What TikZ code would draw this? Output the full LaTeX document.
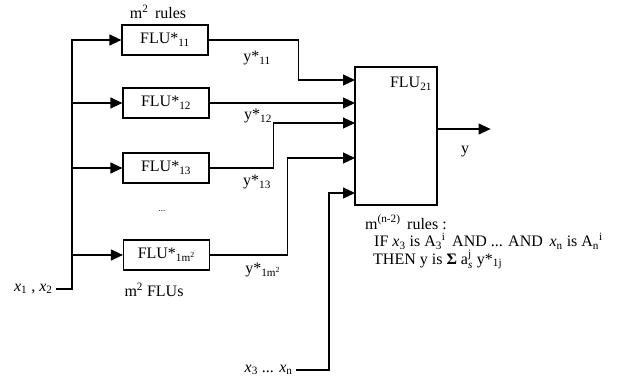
\documentclass[tikz,border=0pt]{standalone}
\usepackage{amsmath}
\usepackage{fontspec}
\setmainfont{Liberation Serif}
\usetikzlibrary{arrows.meta}
\tikzset{
  flu/.style={draw, line width=1.2pt, minimum width=86pt, minimum height=30pt, inner sep=2pt},
  flow/.style={line width=1.2pt, -{Triangle[length=12pt,width=11pt]}}
}

\begin{document}
\begin{tikzpicture}[x=1pt, y=-1pt, font=\fontsize{16}{16}\selectfont] %one unit is one pixel of the original
\useasboundingbox (0,0) rectangle (627,379); %Fixes the page size

% first layer of units
\node[flu] (b11) at (165,40) {FLU*\textsubscript{11}};
\node[flu] (b12) at (166,103) {FLU*\textsubscript{12}};
\node[flu] (b13) at (166,168) {FLU*\textsubscript{13}};
\node[flu] (b1m) at (166.5,255) {FLU*\textsubscript{1m\textsuperscript{2}}};
\node (rules1) at (158,12) {m\textsuperscript{2}\, rules};
\node (dots) at (162,211) {\fontsize{9}{10}\selectfont ...};
\node (flus) at (154,290) {m\textsuperscript{2} FLUs};

% second layer unit
\node[draw, line width=1.2pt, minimum width=82pt, minimum height=138pt] (b21) at (396,136) {};
\node (lab21) at (411,84) {FLU\textsubscript{21}};
\coordinate (p1) at (355,80);
\coordinate (p2) at (355,103);
\coordinate (p3) at (355,123);
\coordinate (p4) at (355,158);
\coordinate (p5) at (355,193);

% inputs
\node[anchor=east] (in12) at (56,289) {\textit{x}\textsubscript{1} , \textit{x}\textsubscript{2}};
\node[anchor=east] (in3n) at (296,370) {\textit{x}\textsubscript{3} ... \textit{x}\textsubscript{n}};
\draw[flow] (in12.east) -- ++(16,0) coordinate (bus) |- (b11.west); %input bus
\draw[flow] (bus |- b12) -- (b12.west);
\draw[flow] (bus |- b13) -- (b13.west);
\draw[flow] (bus |- b1m) -- (b1m.west);
\draw[flow] (in3n.east) -- ++(33,0) |- (p5);

% outputs of first layer
\draw[flow] (b11.east) -- ++(90,0) |- (p1);
\draw[flow] (b12.east) -- (p2);
\draw[flow] (b13.east) -- ++(64,0) |- (p3);
\draw[flow] (b1m.east) -- ++(77,0) |- (p4);
\node (y11) at (257,58) {y*\textsubscript{11}};
\node (y12) at (258,116) {y*\textsubscript{12}};
\node (y13) at (257,182) {y*\textsubscript{13}};
\node (y1m) at (263,270) {y*\textsubscript{1m\textsuperscript{2}}};

% output
\draw[flow] (b21.east |- 0,129) -- ++(53,0) coordinate (yout);
\node (ylab) at (465,152) {y};

% rule base
\node[anchor=north west, align=left, inner sep=0pt, font=\fontsize{16}{17.5}\selectfont] (rules2) at (365,215) {%
m\textsuperscript{(n-2)}\, rules :\\
\hspace{9pt}IF \textit{x}\textsubscript{3} is A\textsubscript{3}\textsuperscript{i}\, AND ... AND\, \textit{x}\textsubscript{n} is A\textsubscript{n}\textsuperscript{i}\\
\hspace{8pt}THEN y is \textbf{Σ} a$^{\text{j}}_{\text{\itshape s}}$ y*\textsubscript{1j}};
\end{tikzpicture}
\end{document}
